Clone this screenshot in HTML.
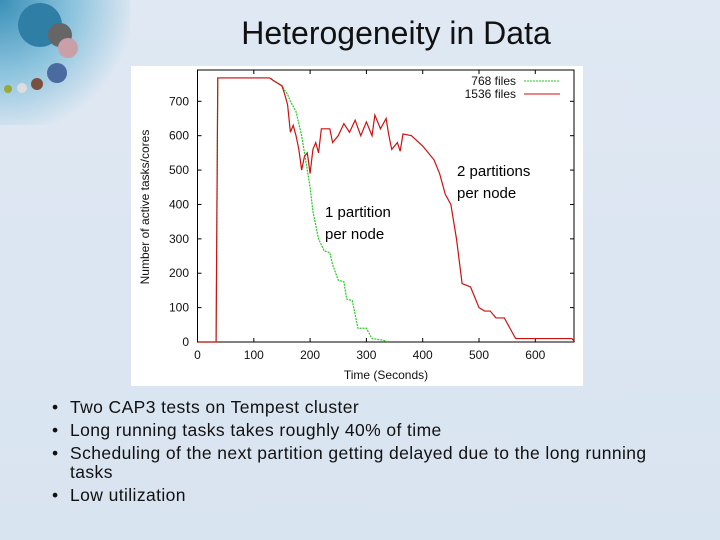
<!DOCTYPE html>
<html><head><meta charset="utf-8"><style>
body{margin:0;width:720px;height:540px;overflow:hidden;font-family:"Liberation Sans",sans-serif;}
#bg{position:absolute;left:0;top:0;width:720px;height:540px;background:linear-gradient(180deg,#dfe8f3 0%,#d9e4f1 100%);}
#deco{position:absolute;left:0;top:0;width:130px;height:125px;background:radial-gradient(circle at 0 0,#3a8fb8 0%,#8bc3dd 40%,rgba(220,232,243,0) 75%);}
#title{position:absolute;left:0;width:792px;top:15px;text-align:center;font-size:32px;color:#111;}
ul{position:absolute;left:52px;top:398px;margin:0;padding:0;list-style:none;font-size:17.5px;letter-spacing:0.4px;color:#111;width:625px;}
li{position:relative;padding-left:18px;line-height:19px;margin-bottom:4px;}
li::before{content:"•";position:absolute;left:0;}
</style></head><body>
<div id="bg"></div>
<div id="deco">
<svg width="130" height="125"><circle cx="40" cy="25" r="22" fill="#2f7ea6"/><circle cx="60" cy="35" r="12" fill="#666"/><circle cx="68" cy="48" r="10" fill="#c9a0a8"/><circle cx="57" cy="73" r="10" fill="#4a6aa0"/><circle cx="37" cy="84" r="6" fill="#7a5040"/><circle cx="22" cy="88" r="5" fill="#ddd"/><circle cx="8" cy="89" r="4" fill="#99aa33"/></svg></div>
<div id="title">Heterogeneity in Data</div>
<svg id="chart" width="720" height="540" style="position:absolute;left:0;top:0" font-family="Liberation Sans, sans-serif">
<rect x="131" y="66" width="452" height="320" fill="#fff"/>
<g id="axes"></g><g id="series"></g>
</svg>
<ul>
<li>Two CAP3 tests on Tempest cluster</li>
<li>Long running tasks takes roughly 40% of time</li>
<li>Scheduling of the next partition getting delayed due to the long running tasks</li>
<li>Low utilization</li>
</ul>
<script>
const xTicks=[0,100,200,300,400,500,600];
const yTicks=[0,100,200,300,400,500,600,700];
const greenT=[0,33,36,130,135,150,160,165,175,185,195,200,205,215,225,235,240,250,260,265,275,285,300,310,330,340];
const greenV=[0,0,768,768,760,745,720,700,670,600,500,450,380,300,265,260,225,180,175,125,120,40,40,10,5,0];
const redT=[0,33,36,128,135,150,155,160,165,170,175,180,185,190,195,200,205,210,215,220,235,240,250,260,270,280,290,300,310,315,325,335,340,345,355,360,365,380,400,420,430,440,450,460,470,485,500,510,520,530,545,555,565,600,665,670];
const redV=[0,0,768,768,760,745,720,690,610,630,600,560,500,540,550,490,560,580,550,620,620,580,600,635,610,645,600,640,600,660,620,650,600,560,580,555,605,600,570,530,490,430,400,300,170,160,100,90,90,70,70,40,10,10,10,0];
const X0=197.5,X1=574,Y0=342,YT=70;
const sx=v=>X0+v*(535.3-X0)/600;
const sy=v=>Y0-v*(Y0-101.3)/700;
const NS='http://www.w3.org/2000/svg';
function mk(t,a,p){const e=document.createElementNS(NS,t);for(const k in a)e.setAttribute(k,a[k]);p.appendChild(e);return e;}
const ax=document.getElementById('axes');
const frame=mk('rect',{x:X0,y:YT,width:X1-X0,height:Y0-YT,fill:'none',stroke:'#000','stroke-width':1},ax);


xTicks.forEach(v=>{
 mk('line',{x1:sx(v),x2:sx(v),y1:Y0,y2:Y0-4,stroke:'#000'},ax);
 mk('line',{x1:sx(v),x2:sx(v),y1:YT,y2:YT+4,stroke:'#000'},ax);
 const t=mk('text',{x:sx(v),y:359,'font-size':12,'text-anchor':'middle',fill:'#111'},ax);t.textContent=v;
 
 
});
yTicks.forEach(v=>{
 mk('line',{x1:X0,x2:X0+4,y1:sy(v),y2:sy(v),stroke:'#000'},ax);
 mk('line',{x1:X1,x2:X1-4,y1:sy(v),y2:sy(v),stroke:'#000'},ax);
 const t=mk('text',{x:189,y:sy(v)+4,'font-size':12,'text-anchor':'end',fill:'#111'},ax);t.textContent=v;
 
 
});
let t=mk('text',{x:386,y:379,'font-size':12,'text-anchor':'middle',fill:'#111'},ax);t.textContent='Time (Seconds)';


t=mk('text',{x:149,y:207,'font-size':12,'text-anchor':'middle',fill:'#111',transform:'rotate(-90 149 207)'},ax);t.textContent='Number of active tasks/cores';


const sr=document.getElementById('series');
function line(T,V,c,dash,name){
 const p=mk('polyline',{points:T.map((x,i)=>sx(x)+','+sy(V[i])).join(' '),fill:'none',stroke:c,'stroke-width':1.2},sr);
 if(dash)p.setAttribute('stroke-dasharray',dash);
 
 
}
line(greenT,greenV,'#22cc22','2,1','series-768-files');
line(redT,redV,'#cc1111',null,'series-1536-files');
t=mk('text',{x:516,y:85,'font-size':12,'text-anchor':'end',fill:'#111'},sr);t.textContent='768 files';


mk('line',{x1:524,x2:560,y1:81,y2:81,stroke:'#22cc22','stroke-dasharray':'2,1'},sr);
t=mk('text',{x:516,y:98,'font-size':12,'text-anchor':'end',fill:'#111'},sr);t.textContent='1536 files';


mk('line',{x1:524,x2:560,y1:94,y2:94,stroke:'#cc1111'},sr);
[['1 partition',325,217],['per node',325,239],['2 partitions',457,176],['per node',457,198]].forEach(a=>{
 const e=mk('text',{x:a[1],y:a[2],'font-size':15,fill:'#000'},sr);e.textContent=a[0];
 
 
});
</script>
</body></html>
